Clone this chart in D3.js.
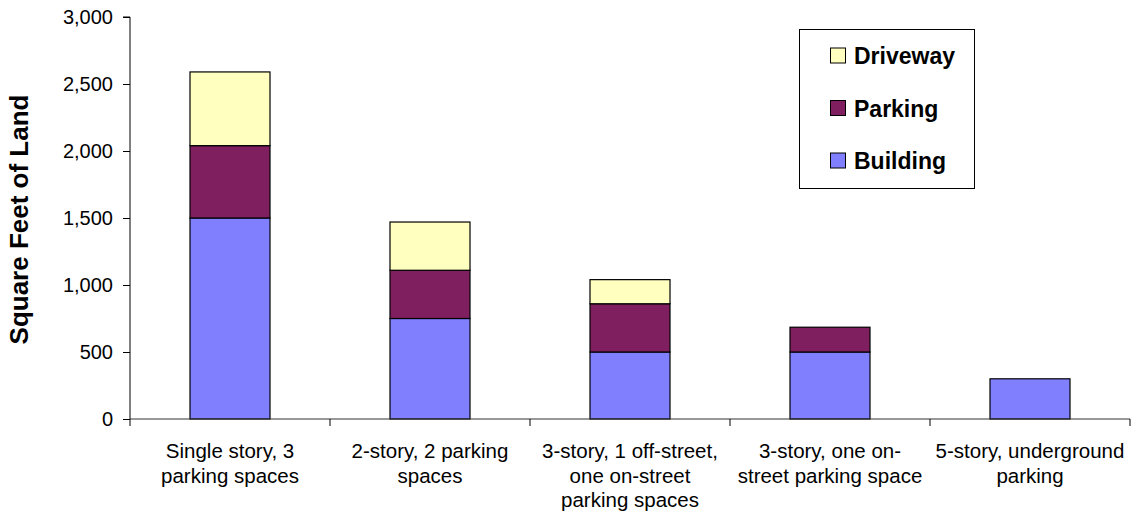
<!DOCTYPE html>
<html>
<head>
<meta charset="utf-8">
<script src="https://cdn.jsdelivr.net/npm/d3@7"></script>
<style>
  html, body { margin: 0; padding: 0; background: #fff; }
  svg { display: block; font-family: "Liberation Sans", Arial, sans-serif; }
</style>
</head>
<body>
<svg id="chart" width="1133" height="521"></svg>
<script>
// Land use per housing type, square feet
const categories = [
  ["Single story, 3", "parking spaces"],
  ["2-story, 2 parking", "spaces"],
  ["3-story, 1 off-street,", "one on-street", "parking spaces"],
  ["3-story, one on-", "street parking space"],
  ["5-story, underground", "parking"]
];
const building = [1500, 750, 500, 500, 300];
const parking  = [540, 360, 360, 185, 0];
const driveway = [550, 360, 180, 0, 0];
const seriesNames = ["Building", "Parking", "Driveway"];
const seriesColors = ["#8080ff", "#7f1f5f", "#ffffc0"];
const yTicks = [0, 500, 1000, 1500, 2000, 2500, 3000];

const svg = d3.select("#chart");
const plot = { left: 130, right: 1130, top: 17, bottom: 419 };

const x = d3.scaleBand().domain(d3.range(categories.length)).range([plot.left, plot.right]).paddingInner(0.6).paddingOuter(0.3);
const xCat = d3.scaleBand().domain(d3.range(categories.length)).range([plot.left, plot.right]);
const y = d3.scaleLinear().domain([0, 3000]).range([plot.bottom, plot.top]);

const rows = categories.map((c, i) => ({ i, Building: building[i], Parking: parking[i], Driveway: driveway[i] }));
const stack = d3.stack().keys(seriesNames)(rows);

// stacked bars
svg.append("g").selectAll("g").data(stack).join("g")
  .attr("fill", (d, k) => seriesColors[k])
  .selectAll("rect").data(d => d.filter(s => s[1] - s[0] > 0)).join("rect")
  .attr("x", d => x(d.data.i))
  .attr("width", x.bandwidth())
  .attr("y", d => y(d[1]))
  .attr("height", d => y(d[0]) - y(d[1]))
  .attr("stroke", "#000")
  .attr("stroke-width", 1.2);

// y axis
const yAxis = svg.append("g").attr("transform", `translate(${plot.left},0)`)
  .call(d3.axisLeft(y).tickValues(yTicks).tickFormat(d3.format(",")).tickSize(7).tickPadding(10));
yAxis.select(".domain").attr("stroke", "#000").attr("d", `M-7,${plot.top}H0V${plot.bottom}`);
yAxis.selectAll("line").attr("stroke", "#000");
yAxis.selectAll("text").attr("font-size", 20).attr("fill", "#000");

// x axis
const xAxis = svg.append("g").attr("transform", `translate(0,${plot.bottom})`);
xAxis.append("line").attr("x1", plot.left).attr("x2", plot.right).attr("stroke", "#333").attr("stroke-width", 1.2);
xAxis.selectAll("line.tick").data(d3.range(categories.length + 1)).join("line")
  .attr("class", "tick")
  .attr("x1", d => d < categories.length ? xCat(d) : plot.right)
  .attr("x2", d => d < categories.length ? xCat(d) : plot.right)
  .attr("y1", 0).attr("y2", 7).attr("stroke", "#000");
xAxis.selectAll("text").data(categories).join("text")
  .attr("text-anchor", "middle")
  .attr("font-size", 20.5)
  .attr("fill", "#000")
  .each(function (lines, i) {
    d3.select(this).selectAll("tspan").data(lines).join("tspan")
      .attr("x", xCat(i) + xCat.bandwidth() / 2)
      .attr("y", (d, j) => 39 + j * 24.5)
      .text(d => d);
  });

// y axis title
svg.append("text")
  .attr("transform", `translate(28,219.5) rotate(-90)`)
  .attr("text-anchor", "middle")
  .attr("font-size", 26)
  .attr("font-weight", "bold")
  .text("Square Feet of Land");

// legend
const legend = svg.append("g");
legend.append("rect").attr("x", 799.5).attr("y", 29.5).attr("width", 175).attr("height", 159)
  .attr("fill", "#fff").attr("stroke", "#000");
const legendOrder = [2, 1, 0];
legendOrder.forEach((k, j) => {
  const cy = 55.5 + j * 52.5;
  legend.append("rect").attr("x", 830.5).attr("y", cy - 7.5).attr("width", 15).attr("height", 15)
    .attr("fill", seriesColors[k]).attr("stroke", "#000");
  legend.append("text").attr("x", 854).attr("y", cy + 8.5).attr("font-size", 23).attr("font-weight", "bold")
    .text(seriesNames[k]);
});
</script>
</body>
</html>
